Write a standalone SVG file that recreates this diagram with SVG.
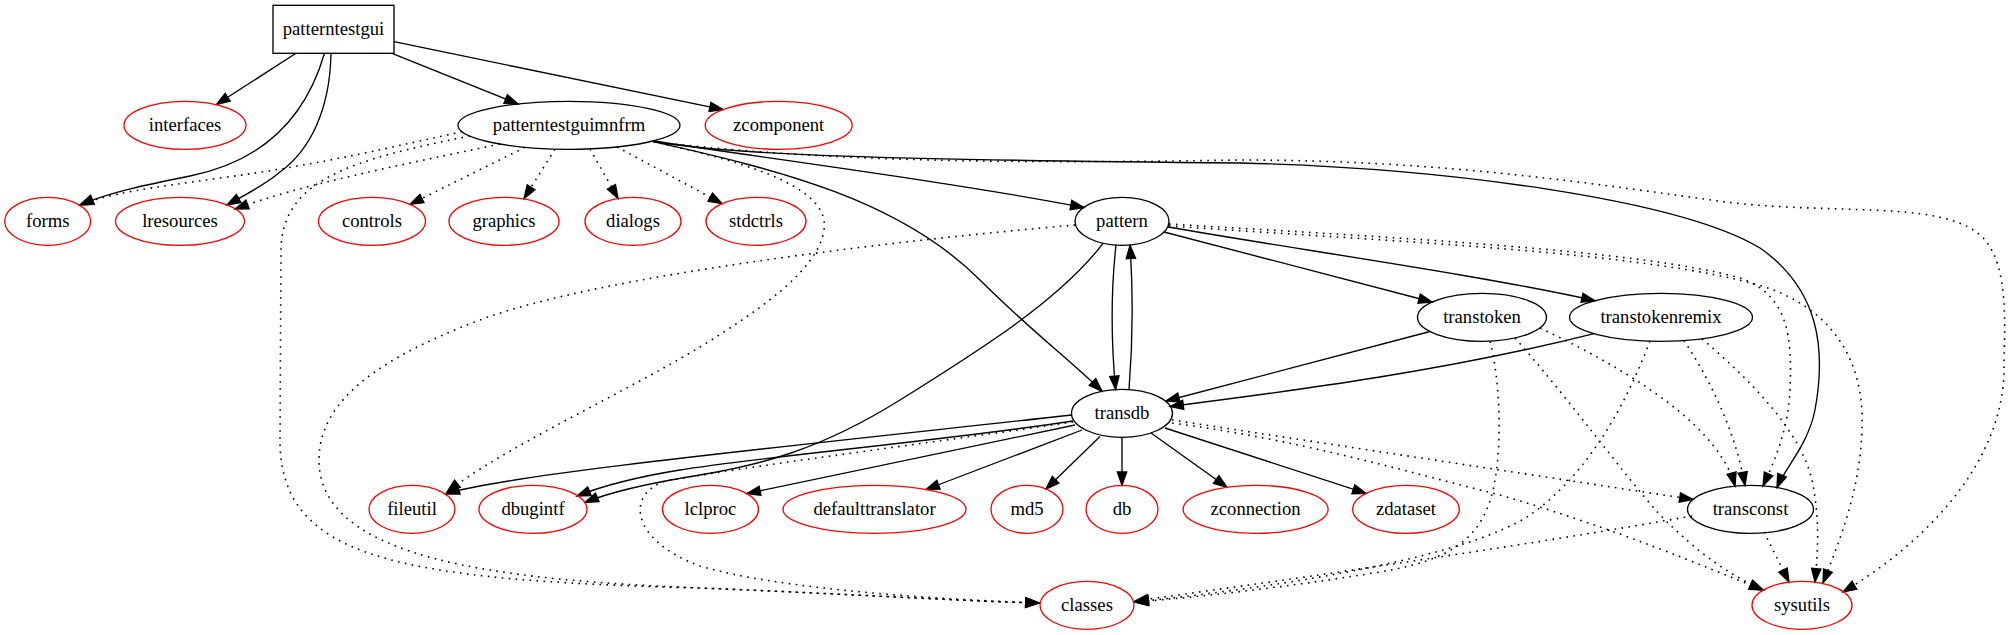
<svg xmlns="http://www.w3.org/2000/svg" width="2009" height="635" viewBox="0 0 2009 635">
<style>
.n ellipse,.n rect{fill:none;stroke:#000;stroke-width:1.33}
.r ellipse{stroke:#f00}
text{font-family:"Liberation Serif","Times New Roman",serif;font-size:18.67px;text-anchor:middle;fill:#000}
.e path{fill:none;stroke:#000;stroke-width:1.33;marker-end:url(#a)}
.e path.d{stroke-width:1.6;stroke-dasharray:1.6 5.4}
</style>
<defs>
<marker id="a" viewBox="-2 -7 17 14" refX="13.33" refY="0" markerWidth="17" markerHeight="14" markerUnits="userSpaceOnUse" orient="auto">
<path d="M0,-4.67 L13.33,0 L0,4.67 Z" fill="#000" stroke="#000" stroke-width="1.33"/>
</marker>
</defs>
<rect width="2009" height="635" fill="#fff"/>
<g class="e" id="edges">
<path d="M296,53.3 L216.5,104.5"/>
<path d="M324.5,53.3 C308,110 270,160 190,176 C150,184 110,192 80,205"/>
<path d="M331,53.3 C330,110 310,150 280,172 C265,185 245,195 227,205"/>
<path d="M392,53.3 L518,104"/>
<path d="M394,41.7 L723,109.7"/>
<path class="d" d="M462,131.7 C400,145 320,165 220,178 C150,188 110,193 80,205"/>
<path class="d" d="M500,144 C400,165 300,185 235,209"/>
<path class="d" d="M525,147.3 L410,204.4"/>
<path class="d" d="M555,149.2 L524,198.5"/>
<path class="d" d="M590,149 L618,198.5"/>
<path class="d" d="M617,147 L722,203.5"/>
<path class="d" d="M470,136 C350,160 282,180 281,250 L280,440 C280,560 400,580 700,588 C850,594 960,601 1039,603"/>
<path class="d" d="M653,141.7 C760,165 830,190 824,230 C818,270 760,310 700,347 C620,395 500,450 447,492"/>
<path class="d" d="M655,142 C800,158 950,165 1240,160 C1450,160 1600,185 1733,203 C1850,215 1950,200 1985,240 C2010,270 2004,330 2004,370 C2003,460 1930,540 1843,592"/>
<path d="M653,141 C780,160 950,182 1084,207.5"/>
<path d="M653,141.7 C780,170 900,200 980,280 C1030,330 1070,360 1102,391.3"/>
<path d="M653,141 C720,155 900,160 1240,163 C1450,168 1680,200 1760,248 C1820,290 1826,350 1815,410 C1808,445 1785,468 1777,487.5"/>
<path d="M1116,245 C1111,290 1111,340 1115.6,389.5"/>
<path d="M1129,389.5 C1133,340 1133,290 1130,245.2"/>
<path d="M1103,243.3 C1060,300 980,350 900,400 C820,450 760,465 700,475 C650,483 610,492 585,502.5"/>
<path d="M1164,232 L1432,302"/>
<path d="M1168,227 C1300,250 1480,275 1595,300.7"/>
<path class="d" d="M1075,225 C900,240 600,275 480,320 C360,365 319,410 319,460 C319,560 500,580 700,588 C850,594 960,601 1039,603"/>
<path class="d" d="M1169,224 C1400,238 1640,250 1740,278 C1790,295 1792,340 1790,390 C1788,430 1775,460 1763,486"/>
<path class="d" d="M1169,226 C1400,242 1650,252 1765,287 C1840,312 1865,370 1862,430 C1860,490 1840,540 1823,583"/>
<path d="M1430,331.5 L1166,401"/>
<path class="d" d="M1490,341.5 C1500,380 1502,440 1495,480 C1485,540 1450,560 1380,572 C1280,588 1200,597 1135,602"/>
<path class="d" d="M1540,328 C1640,375 1720,430 1735,486"/>
<path class="d" d="M1515,338 C1570,400 1620,470 1660,515 C1700,555 1730,575 1763,590"/>
<path d="M1594,333.6 C1450,370 1300,390 1170,406.5"/>
<path class="d" d="M1650,341 C1620,420 1580,480 1530,515 C1470,555 1300,585 1135,602"/>
<path class="d" d="M1684,340.5 C1710,380 1735,430 1745,485.5"/>
<path class="d" d="M1702,338.8 C1750,380 1800,430 1812,480 C1820,520 1818,550 1815,582"/>
<path d="M1072,415 C800,445 500,475 446,494"/>
<path d="M1073,421 C950,440 750,458 680,470 C630,478 600,487 577,496"/>
<path d="M1075,425 L747,493.5"/>
<path d="M1082,430 L926,489.5"/>
<path d="M1100,436.5 L1046,489"/>
<path d="M1122,437.3 L1122,485.3"/>
<path d="M1151,433 L1227,487.3"/>
<path d="M1165,428 L1366,493.4"/>
<path class="d" d="M1073,422 C950,440 780,462 670,480 C625,490 628,540 700,566 C780,590 950,600 1039,603"/>
<path class="d" d="M1172,420 L1693,499.5"/>
<path class="d" d="M1172,423 C1300,440 1400,470 1500,495 C1620,530 1700,565 1763,590"/>
<path class="d" d="M1692,516 C1500,550 1250,585 1135,601"/>
<path class="d" d="M1764,532 L1789,582"/>
</g>
<g class="n" id="patterntestgui"><rect x="273" y="5.3" width="121" height="48"/><text x="333.5" y="35.3">patterntestgui</text></g>
<g class="n r" id="interfaces"><ellipse cx="185" cy="125.3" rx="61" ry="24"/><text x="185" y="131.3">interfaces</text></g>
<g class="n" id="patterntestguimnfrm"><ellipse cx="569" cy="125.3" rx="111" ry="24"/><text x="569" y="131.3">patterntestguimnfrm</text></g>
<g class="n r" id="zcomponent"><ellipse cx="778.7" cy="125.3" rx="73.5" ry="24"/><text x="778.7" y="131.3">zcomponent</text></g>
<g class="n r" id="forms"><ellipse cx="47.7" cy="221.3" rx="43" ry="24"/><text x="47.7" y="227.3">forms</text></g>
<g class="n r" id="lresources"><ellipse cx="180" cy="221.3" rx="64.5" ry="24"/><text x="180" y="227.3">lresources</text></g>
<g class="n r" id="controls"><ellipse cx="372" cy="221.3" rx="53.5" ry="24"/><text x="372" y="227.3">controls</text></g>
<g class="n r" id="graphics"><ellipse cx="504" cy="221.3" rx="55" ry="24"/><text x="504" y="227.3">graphics</text></g>
<g class="n r" id="dialogs"><ellipse cx="633" cy="221.3" rx="48" ry="24"/><text x="633" y="227.3">dialogs</text></g>
<g class="n r" id="stdctrls"><ellipse cx="756" cy="221.3" rx="50" ry="24"/><text x="756" y="227.3">stdctrls</text></g>
<g class="n" id="pattern"><ellipse cx="1122" cy="221.3" rx="47" ry="24"/><text x="1122" y="227.3">pattern</text></g>
<g class="n" id="transtoken"><ellipse cx="1482" cy="317.3" rx="64.5" ry="24"/><text x="1482" y="323.3">transtoken</text></g>
<g class="n" id="transtokenremix"><ellipse cx="1661" cy="317.3" rx="91.5" ry="24"/><text x="1661" y="323.3">transtokenremix</text></g>
<g class="n" id="transdb"><ellipse cx="1122" cy="413.3" rx="50.5" ry="24"/><text x="1122" y="419.3">transdb</text></g>
<g class="n r" id="fileutil"><ellipse cx="412" cy="509.3" rx="43" ry="24"/><text x="412" y="515.3">fileutil</text></g>
<g class="n r" id="dbugintf"><ellipse cx="533" cy="509.3" rx="54" ry="24"/><text x="533" y="515.3">dbugintf</text></g>
<g class="n r" id="lclproc"><ellipse cx="710.5" cy="509.3" rx="48" ry="24"/><text x="710.5" y="515.3">lclproc</text></g>
<g class="n r" id="defaulttranslator"><ellipse cx="874.5" cy="509.3" rx="91.5" ry="24"/><text x="874.5" y="515.3">defaulttranslator</text></g>
<g class="n r" id="md5"><ellipse cx="1027" cy="509.3" rx="36" ry="24"/><text x="1027" y="515.3">md5</text></g>
<g class="n r" id="db"><ellipse cx="1122" cy="509.3" rx="36" ry="24"/><text x="1122" y="515.3">db</text></g>
<g class="n r" id="zconnection"><ellipse cx="1255.6" cy="509.3" rx="72.5" ry="24"/><text x="1255.6" y="515.3">zconnection</text></g>
<g class="n r" id="zdataset"><ellipse cx="1406" cy="509.3" rx="53.3" ry="24"/><text x="1406" y="515.3">zdataset</text></g>
<g class="n" id="transconst"><ellipse cx="1750.5" cy="509.3" rx="63" ry="24"/><text x="1750.5" y="515.3">transconst</text></g>
<g class="n r" id="classes"><ellipse cx="1087" cy="605.3" rx="47" ry="24"/><text x="1087" y="611.3">classes</text></g>
<g class="n r" id="sysutils"><ellipse cx="1802" cy="605.3" rx="50" ry="24"/><text x="1802" y="611.3">sysutils</text></g>
</svg>
